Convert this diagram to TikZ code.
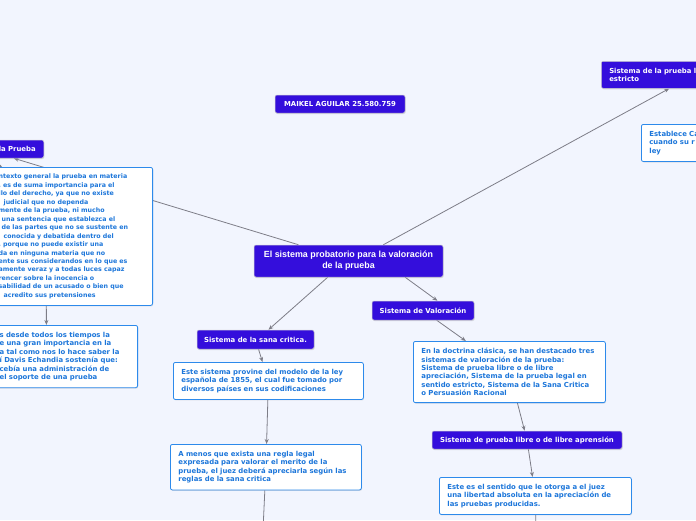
\documentclass[tikz,border=0pt]{standalone}
\usepackage{fontspec}
\usepackage{tikz}
\usepackage{xcolor}
\usetikzlibrary{arrows.meta,shadows,backgrounds}

\newfontfamily\mapfont{DejaVu Sans}
\newfontfamily\topicfont{Liberation Sans}

\definecolor{mapbg}{RGB}{242,245,254}
\definecolor{topicpurple}{RGB}{52,14,220}
\definecolor{notetext}{RGB}{28,118,218}
\definecolor{noteborder}{RGB}{45,138,235}
\definecolor{linkgray}{RGB}{125,125,135}

\tikzset{
  topic/.style={fill=topicpurple, draw=gray!40, line width=0.5pt, rounded corners=2pt,
    text=white, font=\mapfont\bfseries\fontsize{6.9}{8.4}\selectfont, inner sep=0pt,
    drop shadow={opacity=0.25, shadow xshift=0.6pt, shadow yshift=-1pt}},
  notebox/.style={fill=white, draw=noteborder, line width=0.8pt, rounded corners=2pt,
    text=notetext, font=\mapfont\bfseries\fontsize{6.9}{8.4}\selectfont, align=left,
    inner xsep=8pt, inner ysep=6.8pt,
    drop shadow={opacity=0.2, shadow xshift=0.6pt, shadow yshift=-1pt}},
  smallnote/.style={notebox, font=\mapfont\bfseries\fontsize{6.3}{8.45}\selectfont},
  link/.style={draw=linkgray, line width=0.8pt, -{Stealth[length=5pt,width=4pt]}},
  plainlink/.style={draw=linkgray, line width=0.8pt},
}

\begin{document}
\begin{tikzpicture}[x=1pt,y=-1pt]
\useasboundingbox (0,0) rectangle (696,520);

% Author
\node[topic, minimum width=130pt, minimum height=18pt] (autor) at (340,104) {MAIKEL AGUILAR 25.580.759};

% Central topic
\node[topic, font=\topicfont\bfseries\fontsize{8.9}{11}\selectfont, align=center,
  minimum width=189pt, minimum height=32pt] (central) at (348.5,261)
  {El sistema probatorio para la valoración\\de la prueba};

% Left branch
\node[topic, text width=44pt, align=right, inner xsep=8pt, minimum height=18pt,
  anchor=east] (prueba) at (44,149) {la Prueba};
\node[smallnote, text width=146pt, anchor=north east] (contexto) at (153,167)
  {ntexto general la prueba en materia\\
   , es de suma importancia para el\\
   llo del derecho, ya que  no existe\\
   \hspace*{5pt}judicial que no dependa\\
   mente de la prueba, ni mucho\\
   \hspace*{3pt}una sentencia que establezca el\\
   \hspace*{3pt}de las partes que no se sustente en\\
   \hspace*{5pt}conocida y debatida dentro  del\\
   , porque no puede existir una\\
   da en ninguna  materia que no\\
   ente sus considerandos  en lo que es\\
   amente veraz  y a todas luces capaz\\
   rencer sobre la inocencia o\\
   sabilidad de un acusado o bien  que\\
   \hspace*{5pt}acredito sus pretensiones};
\node[notebox, text width=130pt, anchor=north east] (tiempos) at (138,325)
  {s desde todos los tiempos la\\
   e una gran importancia  en la\\
   a  tal como nos lo hace saber la\\
   í  Davis Echandia sostenía que:\\
   cebía una administración de\\
   el soporte  de una prueba};

% Top right branch
\node[topic, text width=120pt, align=left, inner xsep=8pt, minimum height=27pt,
  anchor=north west] (legal) at (601,61) {Sistema de la prueba l\\estricto};
\node[notebox, text width=100pt, anchor=north west] (establece) at (641,124)
  {Establece Ca\\cuando su r\\ley};

% Sana critica branch
\node[topic, minimum width=117pt, minimum height=19pt] (sana) at (255.5,339.5) {Sistema de la sana critica.};
\node[notebox, text width=174pt, anchor=north west] (modelo) at (173,362)
  {Este sistema provine del modelo de la ley\\
   española de 1855, el cual fue tomado por\\
   diversos países en sus codificaciones};
\node[notebox, text width=175pt, anchor=north west] (regla) at (170,444)
  {A menos que exista una regla legal\\
   expresada para valorar el merito de la\\
   prueba, el juez deberá apreciarla según las\\
   reglas de la sana critica};
\coordinate (reglaend) at (263,530);

% Valoracion branch
\node[topic, minimum width=102pt, minimum height=19pt] (valoracion) at (423,310.5) {Sistema de Valoración};
\node[notebox, text width=176pt, anchor=north west] (doctrina) at (413,341)
  {En la doctrina clásica, se han destacado tres\\
   sistemas de valoración de la prueba:\\
   Sistema de prueba libre o de libre\\
   apreciación, Sistema de la prueba legal en\\
   sentido estricto,  Sistema de la Sana Critica\\
   o Persuasión Racional};
\node[topic, minimum width=190pt, minimum height=18pt] (libre) at (527,440) {Sistema de prueba libre o de libre aprensión};
\node[notebox, text width=176pt, anchor=north west] (sentido) at (439,477)
  {Este es el sentido que le otorga a el juez\\
   una libertad absoluta en la apreciación de\\
   las pruebas producidas.};
\coordinate (sentidoend) at (536,530);

% Connectors
\begin{scope}[on background layer]
\fill[mapbg] (0,0) rectangle (696,520);
\draw[link] (central.162) -- (prueba.south);
\draw[link] (prueba.south west) -- (contexto.135);
\draw[link] (contexto.250) -- (tiempos.120);
\draw[link] (central.25) -- (legal.south);
\draw[link] (central.-16) -- (valoracion.34);
\draw[link] (central.218) -- (sana.37);
\draw[link] (sana) -- (modelo);
\draw[link] (modelo) -- (regla);
\draw[plainlink] (regla) -- (reglaend);
\draw[link] (valoracion) -- (doctrina);
\draw[link] (doctrina) -- (libre);
\draw[link] (libre) -- (sentido);
\draw[plainlink] (sentido) -- (sentidoend);
\end{scope}
\end{tikzpicture}
\end{document}
